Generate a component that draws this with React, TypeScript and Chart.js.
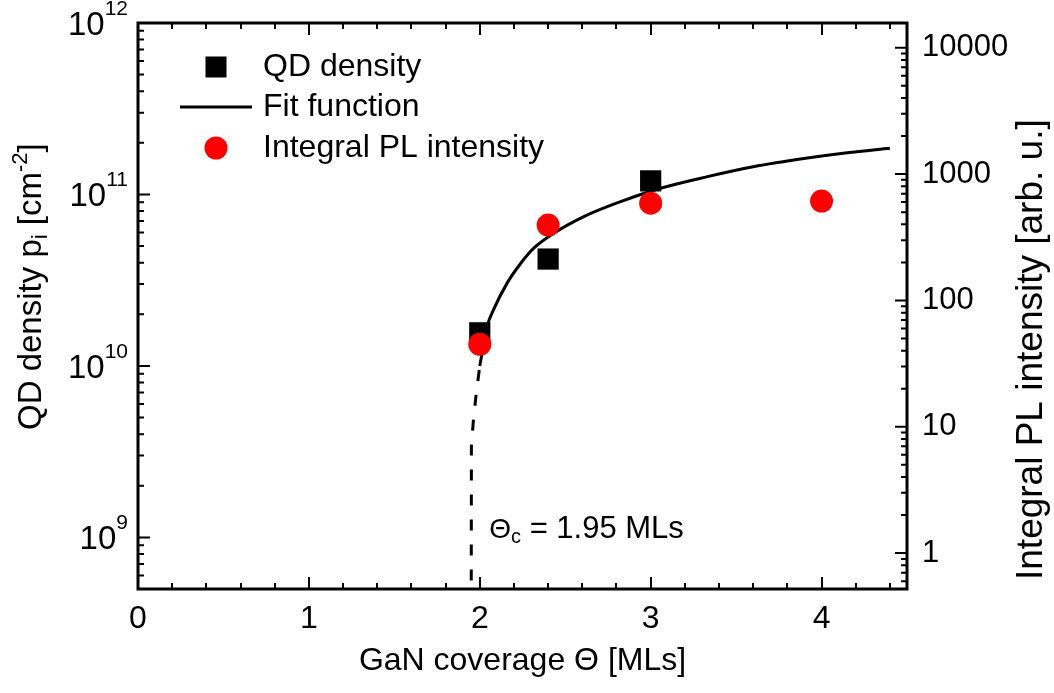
import React, { useEffect, useRef } from 'react';
import { Chart, registerables } from 'chart.js';

Chart.register(...registerables);

// ---- data ----
const qdCoverage = [2.0, 2.4, 3.0];
const qdDensity = [1.56e10, 4.2e10, 1.2e11];

const plCoverage = [2.0, 2.4, 3.0, 4.0];
const plIntensity = [45, 395, 589, 611];

const fitX = [2.0, 2.043, 2.08, 2.16, 2.24, 2.316, 2.433, 2.609, 2.824, 3.058, 3.332, 3.6, 3.917, 4.15, 4.4];
const fitY = [1.0e10, 1.7e10, 2.12e10, 3.04e10, 3.97e10, 4.86e10, 5.94e10, 7.43e10, 9.08e10, 1.087e11, 1.27e11, 1.45e11, 1.63e11, 1.75e11, 1.86e11];

const fitDashX = [1.95, 1.951, 1.964, 1.98, 2.0];
const fitDashY = [4e8, 3.4e9, 5e9, 7e9, 1.0e10];

const xTickValues = [0, 1, 2, 3, 4];
const leftTickExponents = [9, 10, 11, 12];
const rightTickValues = [1, 10, 100, 1000, 10000];

const FONT = '"Liberation Sans", Arial, Helvetica, sans-serif';

type Seg = { t: string; size: number; dy: number };

function segWidth(ctx: CanvasRenderingContext2D, segs: Seg[]) {
  let w = 0;
  for (const s of segs) {
    ctx.font = `${s.size}px ${FONT}`;
    w += ctx.measureText(s.t).width;
  }
  return w;
}

function drawSegs(ctx: CanvasRenderingContext2D, segs: Seg[], x: number, y: number) {
  let cx = x;
  ctx.textAlign = 'left';
  ctx.textBaseline = 'alphabetic';
  for (const s of segs) {
    ctx.font = `${s.size}px ${FONT}`;
    ctx.fillText(s.t, cx, y + s.dy);
    cx += ctx.measureText(s.t).width;
  }
}

const decorPlugin = {
  id: 'decor',
  afterDraw(chart: any) {
    const ctx: CanvasRenderingContext2D = chart.ctx;
    const { left, right, top, bottom } = chart.chartArea;
    const xs = chart.scales.x;
    const yl = chart.scales.y;
    const yr = chart.scales.y2;
    ctx.save();
    ctx.fillStyle = '#000';
    ctx.strokeStyle = '#000';

    // ticks
    ctx.lineWidth = 2;
    const major = 12;
    const minor = 6;
    ctx.beginPath();
    for (let i = 0; i <= 22; i++) {
      const v = i * 0.2;
      if (v > xs.max + 1e-9) break;
      const px = Math.round(xs.getPixelForValue(v));
      const isMajor = Math.abs(v - Math.round(v)) < 1e-6;
      const len = isMajor ? major : minor;
      ctx.moveTo(px, bottom);
      ctx.lineTo(px, bottom - len);
      ctx.moveTo(px, top);
      ctx.lineTo(px, top + len);
    }
    for (let d = 8; d <= 12; d++) {
      for (let m = 1; m <= 9; m++) {
        const v = m * Math.pow(10, d);
        if (v < yl.min * 0.999 || v > yl.max * 1.001) continue;
        const py = yl.getPixelForValue(v);
        const len = m === 1 ? major : minor;
        ctx.moveTo(left, py);
        ctx.lineTo(left + len, py);
      }
    }
    for (let d = -1; d <= 4; d++) {
      for (let m = 1; m <= 9; m++) {
        const v = m * Math.pow(10, d);
        if (v < yr.min * 0.999 || v > yr.max * 1.001) continue;
        const py = yr.getPixelForValue(v);
        const len = m === 1 ? major : minor;
        ctx.moveTo(right, py);
        ctx.lineTo(right - len, py);
      }
    }
    ctx.stroke();

    // frame
    ctx.lineWidth = 3;
    ctx.strokeRect(left, top, right - left, bottom - top);

    // x tick labels
    ctx.font = `32px ${FONT}`;
    ctx.textAlign = 'center';
    ctx.textBaseline = 'middle';
    for (const v of xTickValues) {
      ctx.fillText(String(v), xs.getPixelForValue(v), bottom + 30);
    }

    // left tick labels 10^n
    for (const e of leftTickExponents) {
      const py = yl.getPixelForValue(Math.pow(10, e));
      const segs: Seg[] = [
        { t: '10', size: 33, dy: 12 },
        { t: String(e), size: 21, dy: -8 },
      ];
      const w = segWidth(ctx, segs);
      drawSegs(ctx, segs, left - 10 - w, py);
    }

    // right tick labels
    ctx.font = `31px ${FONT}`;
    ctx.textAlign = 'left';
    ctx.textBaseline = 'middle';
    for (const v of rightTickValues) {
      ctx.fillText(String(v), right + 15, yr.getPixelForValue(v));
    }

    // x title
    ctx.font = `32px ${FONT}`;
    ctx.textAlign = 'center';
    ctx.textBaseline = 'middle';
    ctx.fillText('GaN coverage \u0398 [MLs]', (left + right) / 2, bottom + 72);

    // left title (rotated, reads bottom to top)
    {
      const segs: Seg[] = [
        { t: 'QD density p', size: 33, dy: 0 },
        { t: 'i', size: 22, dy: 6 },
        { t: ' [cm', size: 33, dy: 0 },
        { t: '-2', size: 22, dy: -14 },
        { t: ']', size: 33, dy: 0 },
      ];
      ctx.save();
      ctx.translate(41, 430);
      ctx.rotate(-Math.PI / 2);
      drawSegs(ctx, segs, 0, 0);
      ctx.restore();
    }

    // right title
    {
      ctx.save();
      ctx.font = `37px ${FONT}`;
      ctx.translate(1042, 580);
      ctx.rotate(-Math.PI / 2);
      ctx.textAlign = 'left';
      ctx.textBaseline = 'alphabetic';
      ctx.fillText('Integral PL intensity [arb. u.]', 0, 0);
      ctx.restore();
    }

    // legend
    {
      const lx = left + 78;
      const tx = left + 125;
      ctx.fillStyle = '#000';
      ctx.fillRect(lx - 10.5, top + 33.5, 21, 21);
      ctx.lineWidth = 3;
      ctx.beginPath();
      ctx.moveTo(left + 42, top + 84);
      ctx.lineTo(left + 114, top + 84);
      ctx.stroke();
      ctx.fillStyle = '#ff0000';
      ctx.beginPath();
      ctx.arc(lx, top + 125, 11.5, 0, Math.PI * 2);
      ctx.fill();
      ctx.fillStyle = '#000';
      ctx.font = `32px ${FONT}`;
      ctx.textAlign = 'left';
      ctx.textBaseline = 'middle';
      ctx.fillText('QD density', tx, top + 44);
      ctx.fillText('Fit function', tx, top + 84);
      ctx.fillText('Integral PL intensity', tx, top + 125);
    }

    // annotation
    {
      const ax = xs.getPixelForValue(1.95) + 18;
      const ay = bottom - 51;
      const segs: Seg[] = [
        { t: '\u0398', size: 28, dy: 0 },
        { t: 'c', size: 20, dy: 5 },
        { t: ' = 1.95 MLs', size: 31, dy: 0 },
      ];
      drawSegs(ctx, segs, ax, ay);
    }

    ctx.restore();
  },
};

export default function App() {
  const ref = useRef<HTMLCanvasElement | null>(null);
  useEffect(() => {
    if (!ref.current) return;
    const chart = new Chart(ref.current, {
      type: 'scatter',
      data: {
        datasets: [
          {
            label: 'Integral PL intensity',
            data: plCoverage.map((x, i) => ({ x, y: plIntensity[i] })),
            yAxisID: 'y2',
            pointStyle: 'circle',
            pointRadius: 11.5,
            pointBackgroundColor: '#ff0000',
            pointBorderWidth: 0,
            borderColor: '#ff0000',
            showLine: false,
            order: 0,
          },
          {
            label: 'Fit function',
            data: fitX.map((x, i) => ({ x, y: fitY[i] })),
            yAxisID: 'y',
            showLine: true,
            borderColor: '#000',
            borderWidth: 3,
            pointRadius: 0,
            cubicInterpolationMode: 'monotone',
            order: 1,
          },
          {
            label: 'Fit extrapolation',
            data: fitDashX.map((x, i) => ({ x, y: fitDashY[i] })),
            yAxisID: 'y',
            showLine: true,
            borderColor: '#000',
            borderWidth: 3,
            borderDash: [11, 14],
            pointRadius: 0,
            order: 1,
          },
          {
            label: 'QD density',
            data: qdCoverage.map((x, i) => ({ x, y: qdDensity[i] })),
            yAxisID: 'y',
            pointStyle: 'rect',
            pointRadius: 15,
            pointBackgroundColor: '#000',
            pointBorderWidth: 0,
            borderColor: '#000',
            showLine: false,
            order: 2,
          },
        ],
      },
      options: {
        animation: false,
        responsive: true,
        maintainAspectRatio: false,
        layout: { padding: { top: 23, left: 0, right: 0, bottom: 0 } },
        plugins: {
          legend: { display: false },
          tooltip: { enabled: false },
        },
        scales: {
          x: {
            type: 'linear',
            min: 0,
            max: 4.5,
            grid: { display: false },
            border: { display: false },
            ticks: { display: false },
            afterFit: (s: any) => {
              s.height = 104;
            },
          },
          y: {
            type: 'logarithmic',
            position: 'left',
            min: 5e8,
            max: 1e12,
            grid: { display: false },
            border: { display: false },
            ticks: { display: false },
            afterFit: (s: any) => {
              s.width = 138;
            },
          },
          y2: {
            type: 'logarithmic',
            position: 'right',
            min: 0.52,
            max: 15700,
            grid: { display: false },
            border: { display: false },
            ticks: { display: false },
            afterFit: (s: any) => {
              s.width = 147;
            },
          },
        },
      } as any,
      plugins: [decorPlugin],
    });
    return () => chart.destroy();
  }, []);
  return (
    <div style={{ position: 'absolute', left: 0, top: 0, width: 1054, height: 693 }}>
      <canvas ref={ref} />
    </div>
  );
}
